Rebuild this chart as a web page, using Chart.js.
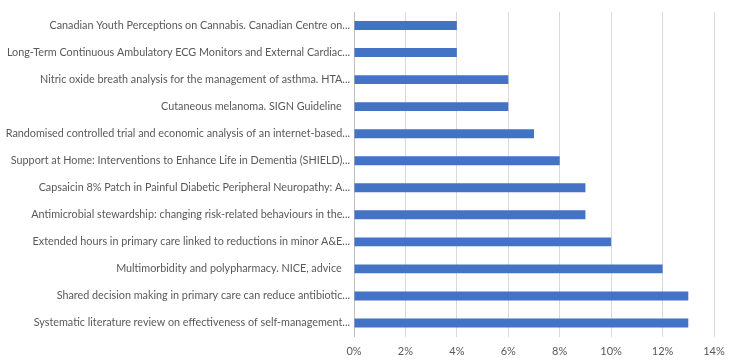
<!DOCTYPE html>
<html>
<head>
<meta charset="utf-8">
<script src="https://cdn.jsdelivr.net/npm/chart.js@4"></script>
<style>
  html, body { margin: 0; padding: 0; background: #fff; }
  #wrap { width: 736px; height: 364px; }
</style>
</head>
<body>
<div id="wrap"><canvas id="chart"></canvas></div>
<script>
const categories = [
  'Canadian Youth Perceptions on Cannabis. Canadian Centre on...',
  'Long-Term Continuous Ambulatory ECG Monitors and External Cardiac...',
  'Nitric oxide breath analysis for the management of asthma. HTA...',
  'Cutaneous melanoma. SIGN Guideline   ',
  'Randomised controlled trial and economic analysis of an internet-based...',
  'Support at Home: Interventions to Enhance Life in Dementia (SHIELD)...',
  'Capsaicin 8% Patch in Painful Diabetic Peripheral Neuropathy: A...',
  'Antimicrobial stewardship: changing risk-related behaviours in the...',
  'Extended hours in primary care linked to reductions in minor A&E...',
  'Multimorbidity and polypharmacy. NICE, advice   ',
  'Shared decision making in primary care can reduce antibiotic...',
  'Systematic literature review on effectiveness of self-management...'
];
const shares = [0.04, 0.04, 0.06, 0.06, 0.07, 0.08, 0.09, 0.09, 0.10, 0.12, 0.13, 0.13];
const xTicks = [0, 0.02, 0.04, 0.06, 0.08, 0.10, 0.12, 0.14];

const textColor = '#595959';
const font = { family: 'Lato, "Open Sans", sans-serif', size: 10.8 };

new Chart(document.getElementById('chart'), {
  type: 'bar',
  data: {
    labels: categories,
    datasets: [{
      data: shares,
      backgroundColor: '#4472C4',
      borderWidth: 0,
      categoryPercentage: 1.0,
      barPercentage: 0.33
    }]
  },
  options: {
    indexAxis: 'y',
    responsive: true,
    maintainAspectRatio: false,
    animation: false,
    layout: { padding: { top: 12, right: 22, bottom: 0, left: 0 } },
    plugins: { legend: { display: false }, tooltip: { enabled: false } },
    scales: {
      x: {
        min: 0,
        max: 0.14,
        afterBuildTicks: function(axis) {
          axis.ticks = xTicks.map(v => ({ value: v }));
        },
        afterFit: function(axis) { axis.height = 27.5; },
        grid: { color: '#D9D9D9', drawTicks: false },
        border: { display: false },
        ticks: {
          color: textColor,
          font: { family: font.family, size: 11 },
          padding: 8,
          callback: v => Math.round(v * 100) + '%'
        }
      },
      y: {
        afterFit: function(axis) { axis.width = 354; },
        grid: { display: false, drawTicks: false },
        border: { display: true, color: '#BFBFBF' },
        ticks: {
          color: textColor,
          font: font,
          padding: 4,
          autoSkip: false
        }
      }
    }
  }
});
</script>
</body>
</html>
